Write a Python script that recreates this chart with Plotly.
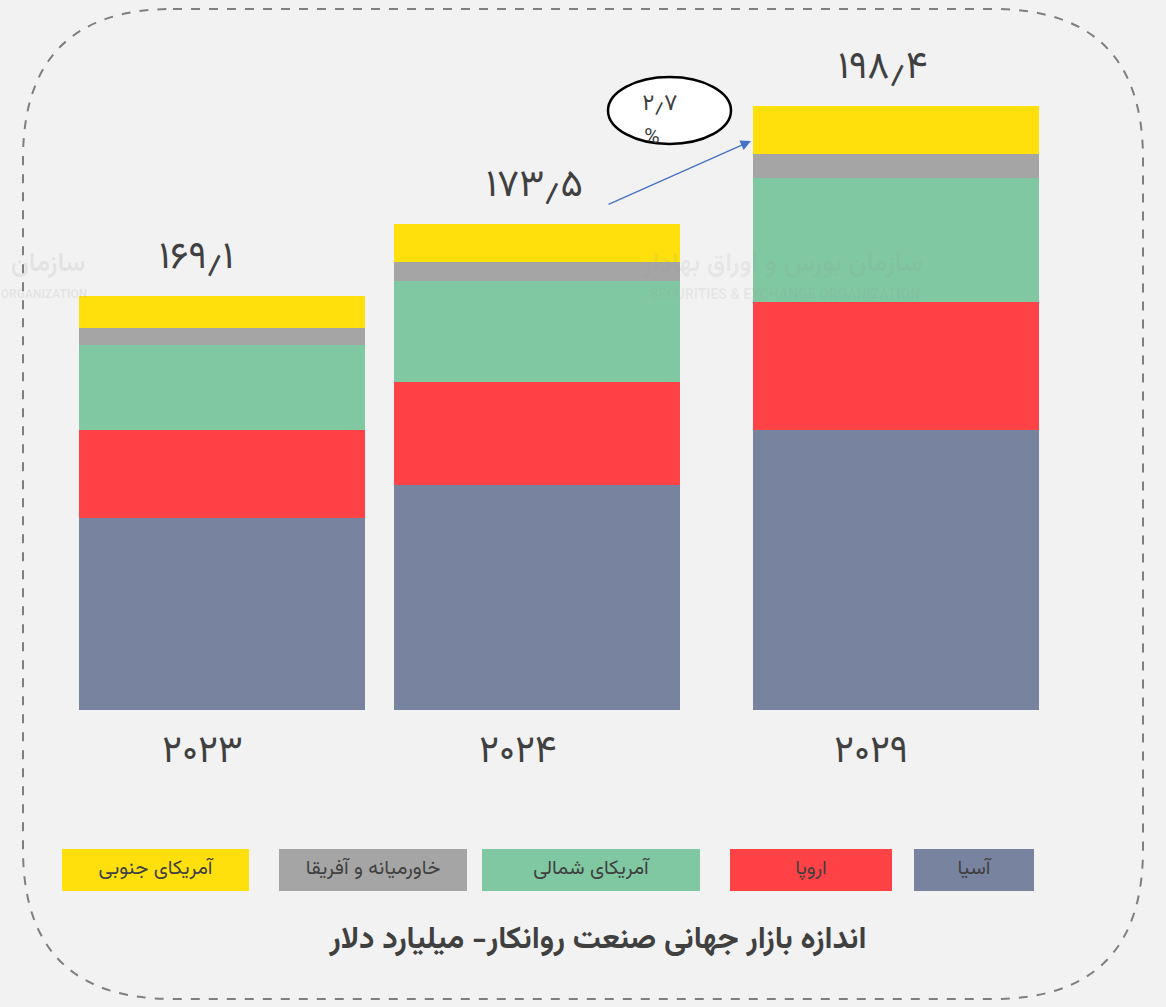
import plotly.graph_objects as go

# ---------------- data ----------------
years = ["۲۰۲۳", "۲۰۲۴", "۲۰۲۹"]
total_labels = ["۱۶۹٫۱", "۱۷۳٫۵", "۱۹۸٫۴"]
growth_value = "۲٫۷"
growth_unit = "%"
title_text = "اندازه بازار جهانی صنعت روانکار- میلیارد دلار"

regions = ["آسیا", "اروپا", "آمریکای شمالی", "خاورمیانه و آفریقا", "آمریکای جنوبی"]
asia = [63.1, 73.8, 92.0]
europe = [28.9, 33.9, 42.0]
north_america = [28.1, 33.2, 41.0]
mea = [5.3, 6.2, 7.7]
south_america = [10.5, 12.5, 15.8]
series = [asia, europe, north_america, mea, south_america]
colors = ["#78839F", "#FF4245", "#80C8A2", "#A5A5A5", "#FFE00D"]

FONT = "Vazirmatn, 'Noto Sans Arabic', 'DejaVu Sans', sans-serif"
TXT = "#404040"

# ---------------- layout geometry (pixels) ----------------
W, H = 1166, 1007
PL, PR = 53.5, 1064.5      # plot area left / right
PT, PB = 40, 710           # plot area top / bottom (baseline)
CAT_PX = (PR - PL) / 3     # pixels per category
BAR_W = 286 / CAT_PX       # bar width in category units
nudge_px = [0, -22, 0]     # small horizontal nudge of each category's bar
total_xshift = [-26, -25, -14]
year_xshift = [-20, -41, -25]

fig = go.Figure()
offsets = [-BAR_W / 2 + n / CAT_PX for n in nudge_px]
for name, vals, col in zip(regions, series, colors):
    fig.add_trace(go.Bar(x=years, y=vals, name=name, marker=dict(color=col, line=dict(width=0)),
                         width=BAR_W, offset=offsets,
                         hoverinfo="y+name", xaxis="x", yaxis="y"))

totals = [sum(v) for v in zip(*series)]


def pix_text(x, y, text, size, color=TXT):
    """text placed on the full-figure pixel overlay axes"""
    fig.add_trace(go.Scatter(x=[x], y=[y], mode="text", text=[text], textposition="middle center",
                             textfont=dict(family=FONT, size=size, color=color),
                             xaxis="x2", yaxis="y2", hoverinfo="skip", cliponaxis=False,
                             showlegend=False))


# watermark
wm = "rgba(150,150,150,0.13)"
pix_text(783, 264, "<b>سازمان بورس و اوراق بهادار</b>", 26, wm)
pix_text(785, 295, "<b>SECURITIES & EXCHANGE ORGANIZATION</b>", 14, wm)
pix_text(48, 264, "<b>سازمان</b>", 26, "rgba(150,150,150,0.16)")
pix_text(44, 295, "<b>ORGANIZATION</b>", 12, "rgba(150,150,150,0.16)")

# legend labels (custom boxes, right-to-left)
legend_boxes = [(914, 1034), (730, 892), (482, 700), (279, 467), (62, 249)]
for (x0, x1), name in zip(legend_boxes, regions):
    pix_text((x0 + x1) / 2, 869, name, 20)

# growth callout text
pix_text(660, 104, growth_value, 23)
pix_text(652, 138, growth_unit, 21)

# title
pix_text(598, 940, "<b>" + title_text + "</b>", 31)

annotations = []
# total labels above bars
for yr, tot, lab, xs in zip(years, totals, total_labels, total_xshift):
    annotations.append(dict(x=yr, y=tot, xref="x", yref="y", text=lab, showarrow=False,
                            yanchor="bottom", yshift=6, xshift=xs,
                            font=dict(family=FONT, size=38, color=TXT)))
# year labels under bars
for yr, xs in zip(years, year_xshift):
    annotations.append(dict(x=yr, y=0, xref="x", yref="y", text=yr, showarrow=False,
                            yanchor="top", yshift=-11, xshift=xs,
                            font=dict(family=FONT, size=38, color=TXT)))

# growth arrow
annotations.append(dict(x=751, y=141, ax=607, ay=205, xref="x2", yref="y2", axref="x2", ayref="y2",
                        text="", showarrow=True, arrowhead=2, arrowsize=1.6, arrowwidth=1.3,
                        arrowcolor="#4472C4"))

shapes = []
for (x0, x1), col in zip(legend_boxes, colors):
    shapes.append(dict(type="rect", xref="x2", yref="y2", x0=x0, x1=x1, y0=849, y1=891,
                       fillcolor=col, line=dict(width=0), layer="below"))

# ellipse callout
shapes.append(dict(type="circle", xref="x2", yref="y2", x0=608, x1=731, y0=77, y1=144,
                   fillcolor="white", line=dict(color="black", width=2.5), layer="below"))

# dashed rounded border
L, R, T, B, r = 23, 1143, 9, 999, 150
path = (f"M {L + r},{T} L {R - r},{T} Q {R},{T} {R},{T + r} L {R},{B - r} "
        f"Q {R},{B} {R - r},{B} L {L + r},{B} Q {L},{B} {L},{B - r} L {L},{T + r} "
        f"Q {L},{T} {L + r},{T} Z")
shapes.append(dict(type="path", xref="x2", yref="y2", path=path,
                   line=dict(color="#7F7F7F", width=2, dash="dash"), layer="below"))

fig.update_layout(
    width=W, height=H,
    barmode="stack",
    showlegend=False,
    paper_bgcolor="#F2F2F2", plot_bgcolor="rgba(0,0,0,0)",
    margin=dict(l=0, r=0, t=0, b=0, pad=0, autoexpand=False),
    xaxis=dict(domain=[PL / W, PR / W], anchor="y", showticklabels=False, showgrid=False,
               zeroline=False, showline=False, range=[-0.5, 2.5]),
    yaxis=dict(domain=[1 - PB / H, 1 - PT / H], anchor="x", showticklabels=False, showgrid=False,
               zeroline=False, showline=False, range=[0, (PB - PT) / (710 - 106) * 198.5]),
    xaxis2=dict(domain=[0, 1], anchor="y2", range=[0, W], visible=False, fixedrange=True),
    yaxis2=dict(domain=[0, 1], anchor="x2", range=[H, 0], visible=False, fixedrange=True),
    annotations=annotations, shapes=shapes,
    font=dict(family=FONT, color=TXT),
)

fig.write_html("out.html", config={"displayModeBar": False},
               post_script="document.body.style.margin='0px';")
